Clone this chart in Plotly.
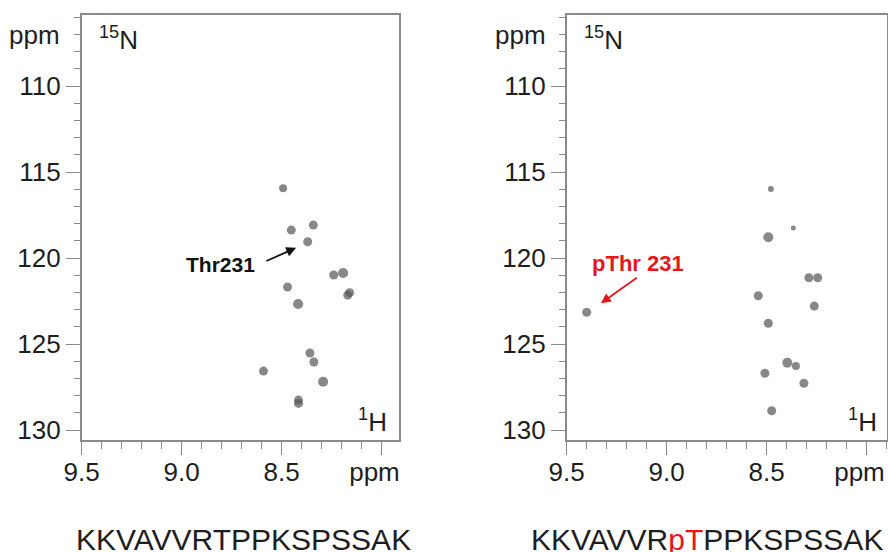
import plotly.graph_objects as go

# 1H-15N HSQC peak positions (ppm) for the Tau peptide, unmodified and phosphorylated at Thr231
free_h = [8.493, 8.452, 8.342, 8.370, 8.240, 8.193, 8.160, 8.170, 8.471, 8.418,
          8.359, 8.339, 8.591, 8.293, 8.416, 8.416]
free_n = [115.94, 118.37, 118.08, 119.05, 120.98, 120.87, 122.01, 122.15, 121.68, 122.67,
          125.52, 126.04, 126.57, 127.19, 128.26, 128.45]
free_size = [8, 9, 9, 9, 9, 10, 9, 9, 9, 10, 9, 9, 9, 10, 9, 9]

phos_h = [9.400, 8.492, 8.367, 8.542, 8.492, 8.289, 8.245, 8.262, 8.397, 8.354,
          8.509, 8.314, 8.475, 8.479]
phos_n = [123.15, 118.79, 118.25, 122.19, 123.79, 121.14, 121.14, 122.79, 126.09, 126.28,
          126.70, 127.28, 128.88, 115.98]
phos_size = [9, 10, 5, 9, 9, 9, 9, 9, 10, 8, 9, 9, 9, 6]

x_tickvals = [9.5, 9.0, 8.5, 8.0]
# the unit label sits in place of "8.0", nudged left by two non-breaking spaces
x_ticktext = ["9.5", "9.0", "8.5", "ppm\u00a0\u00a0"]
y_tickvals = [110, 115, 120, 125, 130]

seq_free = "KKVAVVRTPPKSPSSAK"
seq_phos = "KKVAVVR<span style='color:#e8151b'>pT</span>PPKSPSSAK"

W, H = 888, 552
FONT = "Liberation Sans, Arial, sans-serif"
AXC = "#8a8a8a"
DOT = "#555555"
RED = "#e8151b"

fig = go.Figure()
fig.add_trace(go.Scatter(x=free_h, y=free_n, mode="markers", xaxis="x", yaxis="y",
                         marker=dict(size=free_size, color=DOT, line=dict(width=0)),
                         showlegend=False, hoverinfo="x+y"))
fig.add_trace(go.Scatter(x=phos_h, y=phos_n, mode="markers", xaxis="x2", yaxis="y2",
                         marker=dict(size=phos_size, color=DOT, line=dict(width=0)),
                         showlegend=False, hoverinfo="x+y"))

y_dom = [1 - 440 / H, 1 - 15 / H]
y_range = [130.58, 105.86]


def xaxis(domain, rng, anchor):
    return dict(domain=domain, range=rng, anchor=anchor, automargin=False,
                showgrid=False, zeroline=False,
                showline=True, linecolor=AXC, linewidth=1.5, mirror=True,
                ticks="outside", ticklen=13, tickwidth=1.3, tickcolor=AXC,
                tickmode="array", tickvals=x_tickvals, ticktext=x_ticktext,
                ticklabeloverflow="allow", ticklabelstandoff=-5,
                tickfont=dict(family=FONT, size=26, color="#1e1e1e"),
                minor=dict(ticks="outside", ticklen=7, tickwidth=1, tickcolor=AXC,
                           tickmode="linear", tick0=8.0, dtick=0.1),
                fixedrange=True)


def yaxis(anchor):
    return dict(domain=y_dom, range=y_range, anchor=anchor, automargin=False,
                showgrid=False, zeroline=False,
                showline=True, linecolor=AXC, linewidth=1.5, mirror=True,
                ticks="outside", ticklen=14, tickwidth=1.3, tickcolor=AXC,
                tickmode="array", tickvals=y_tickvals,
                tickfont=dict(family=FONT, size=26, color="#1e1e1e"),
                minor=dict(ticks="outside", ticklen=6, tickwidth=1, tickcolor=AXC,
                           tickmode="linear", tick0=110, dtick=1),
                fixedrange=True)


fig.update_layout(
    width=W, height=H, autosize=False,
    margin=dict(l=0, r=0, t=0, b=0),
    paper_bgcolor="white", plot_bgcolor="white",
    font=dict(family=FONT, color="#1e1e1e"),
    xaxis=xaxis([81.7 / W, 399 / W], [9.5, 7.9135], "y"),
    yaxis=yaxis("x"),
    xaxis2=xaxis([566.7 / W, 887 / W], [9.5, 7.8985], "y2"),
    yaxis2=yaxis("x2"),
)

ann = []
# axis unit / nucleus labels
for ppm_x, n_x, h_x in [(62 / W, 97 / W, 389 / W), (548 / W, 582 / W, 879 / W)]:
    ann.append(dict(xref="paper", yref="paper", x=ppm_x, y=1 - 35 / H, text="ppm",
                    showarrow=False, xanchor="right", yanchor="middle",
                    font=dict(family=FONT, size=26, color="#1e1e1e")))
    ann.append(dict(xref="paper", yref="paper", x=n_x, y=1 - 39 / H, text="<sup>15</sup>N",
                    showarrow=False, xanchor="left", yanchor="middle",
                    font=dict(family=FONT, size=26, color="#1e1e1e")))
    ann.append(dict(xref="paper", yref="paper", x=h_x, y=1 - 420 / H, text="<sup>1</sup>H",
                    showarrow=False, xanchor="right", yanchor="middle",
                    font=dict(family=FONT, size=26, color="#1e1e1e")))

# peptide sequences
ann.append(dict(xref="paper", yref="paper", x=74 / W, y=1 - 539 / H, text=seq_free,
                showarrow=False, xanchor="left", yanchor="middle",
                font=dict(family=FONT, size=30, color="#1e1e1e")))
ann.append(dict(xref="paper", yref="paper", x=885 / W, y=1 - 539 / H, text=seq_phos,
                showarrow=False, xanchor="right", yanchor="middle",
                font=dict(family=FONT, size=30, color="#1e1e1e")))

# Thr231 label and arrow
ann.append(dict(xref="x", yref="y", x=8.624, y=120.40, text="<b>Thr231</b>",
                showarrow=False, xanchor="right", yanchor="middle",
                font=dict(family=FONT, size=21, color="#111111")))
ann.append(dict(xref="x", yref="y", x=8.428, y=119.40, ax=8.584, ay=120.21,
                axref="x", ayref="y", text="", showarrow=True,
                arrowhead=2, arrowsize=1.1, arrowwidth=1.8, arrowcolor="#111111"))

# pThr231 label and arrow
ann.append(dict(xref="x2", yref="y2", x=9.146, y=120.30, text="<b>pThr 231</b>",
                showarrow=False, xanchor="center", yanchor="middle",
                font=dict(family=FONT, size=22, color=RED)))
ann.append(dict(xref="x2", yref="y2", x=9.329, y=122.63, ax=9.142, ay=121.08,
                axref="x2", ayref="y2", text="", showarrow=True,
                arrowhead=2, arrowsize=1.1, arrowwidth=1.8, arrowcolor=RED))

fig.update_layout(annotations=ann)
fig.write_html("out.html")
